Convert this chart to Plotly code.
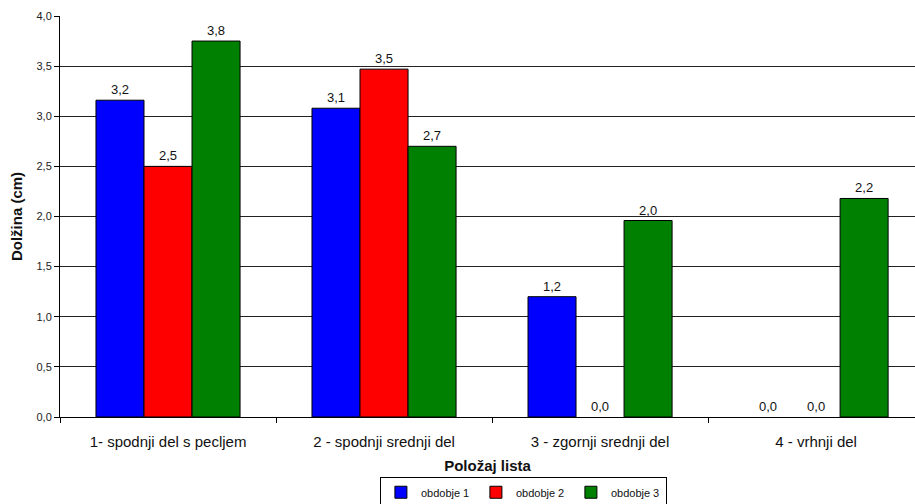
import plotly.graph_objects as go

# Leaf position categories and lengths (cm) for the three periods
categories = ["1- spodnji del s pecljem", "2 - spodnji srednji del",
              "3 - zgornji srednji del", "4 - vrhnji del"]
obdobje_1 = [3.16, 3.08, 1.2, 0.0]
obdobje_2 = [2.5, 3.47, 0.0, 0.0]
obdobje_3 = [3.75, 2.7, 1.96, 2.18]

series = [
    ("obdobje 1", obdobje_1, "#0000FF"),
    ("obdobje 2", obdobje_2, "#FF0000"),
    ("obdobje 3", obdobje_3, "#008000"),
]

FONT = "Liberation Sans, Arial, sans-serif"

fig = go.Figure()
for name, vals, color in series:
    fig.add_trace(go.Bar(
        name=name,
        x=categories,
        y=vals,
        # no outline on empty bars, so nothing shows along the axis
        marker=dict(color=color,
                    line=dict(color="black", width=[1 if v > 0 else 0 for v in vals])),
        texttemplate="%{y:.1f}",
        textposition="outside",
        textfont=dict(family=FONT, size=13, color="#111"),
        cliponaxis=False,
    ))

fig.update_layout(
    width=915,
    height=504,
    separators=",.",
    barmode="group",
    bargap=0.333,
    bargroupgap=0,
    plot_bgcolor="white",
    paper_bgcolor="white",
    font=dict(family=FONT, color="#111"),
    margin=dict(l=60, r=0, t=16, b=87, autoexpand=False),
    showlegend=True,
    legend=dict(
        orientation="h",
        x=0.542, xanchor="center",
        y=-0.149, yanchor="top",
        bordercolor="black", borderwidth=1,
        font=dict(family=FONT, size=11, color="#111"),
        itemwidth=30,
        entrywidth=50,
        tracegroupgap=0,
    ),
)

fig.update_xaxes(
    range=[-0.5, 3.458],
    showline=True, linecolor="black", linewidth=1,
    ticks="outside", tickson="boundaries", ticklen=5, tickcolor="black",
    ticklabelstandoff=11,
    tickfont=dict(family=FONT, size=15, color="#111"),
    title=dict(text="<b>Položaj lista</b>", font=dict(family=FONT, size=15, color="#111"),
               standoff=11),
    showgrid=False,
    automargin=False,
)

fig.update_yaxes(
    range=[0, 4.0],
    dtick=0.5,
    tickformat=".1f",
    showline=True, linecolor="black", linewidth=1,
    ticks="outside", ticklen=5, tickcolor="black",
    tickfont=dict(family=FONT, size=11, color="#222"),
    showgrid=True, gridcolor="#222", gridwidth=1,
    zeroline=False,
    title=dict(text="<b>Dolžina (cm)</b>", font=dict(family=FONT, size=15, color="#111"),
               standoff=10),
    automargin=False,
)

fig.write_html("out.html")
